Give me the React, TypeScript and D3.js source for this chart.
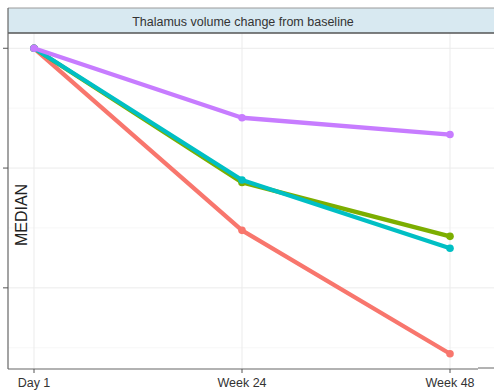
import React from "react";
import * as d3 from "d3";

const visits = ["Day 1", "Week 24", "Week 48"];
const groupNames = ["A", "B", "C", "D"];
const groupColors = ["#F8766D", "#7CAE00", "#00BFC4", "#C77CFF"];
const valuesA = [0, -1.52, -2.55];
const valuesB = [0, -1.12, -1.57];
const valuesC = [0, -1.10, -1.67];
const valuesD = [0, -0.58, -0.72];
const yTicks = [0, -1, -2];
const yMinorTicks = [-0.5, -1.5, -2.5];
const title = "Thalamus volume change from baseline";
const yLabel = "MEDIAN";

const W = 494;
const H = 390;

export default function App() {
  const panelLeft = 8;
  const panelRight = 494;
  const panelTop = 33;
  const panelBottom = 369;
  const x = d3.scalePoint<string>().domain(visits).range([34, 450]);
  const series = [valuesA, valuesB, valuesC, valuesD];
  const allVals = series.flat();
  const lo = d3.min(allVals)!;
  const hi = d3.max(allVals)!;
  const pad = (hi - lo) * 0.05;
  const y = d3.scaleLinear().domain([lo - pad, hi + pad]).range([panelBottom, panelTop]);
  const line = d3
    .line<number>()
    .x((_, i) => x(visits[i])!)
    .y((d) => y(d));
  const font = "'Liberation Sans', Arial, Helvetica, sans-serif";
  return (
    <svg width={W} height={H} style={{ position: "absolute", left: 0, top: 0 }} fontFamily={font}>
      <rect x={0} y={0} width={W} height={H} fill="#fff" />
      {/* grid */}
      {yMinorTicks.map((t) => (
        <line key={"m" + t} x1={panelLeft} x2={panelRight} y1={y(t)} y2={y(t)} stroke="#f3f3f3" strokeWidth={0.7} />
      ))}
      {yTicks.map((t) => (
        <line key={"g" + t} x1={panelLeft} x2={panelRight} y1={y(t)} y2={y(t)} stroke="#ebebeb" strokeWidth={1} />
      ))}
      {visits.map((v) => (
        <line key={"v" + v} x1={x(v)} x2={x(v)} y1={panelTop} y2={panelBottom} stroke="#ebebeb" strokeWidth={1} />
      ))}
      {/* strip */}
      <rect x={panelLeft} y={8} width={panelRight - panelLeft + 2} height={panelTop - 8} fill="#d8e9f1" />
      <line x1={panelLeft} x2={panelRight} y1={8} y2={8} stroke="#9a9a9a" strokeWidth={1} />
      <line x1={panelLeft} x2={panelRight} y1={panelTop} y2={panelTop} stroke="#555" strokeWidth={1.5} />
      <text x={243} y={25.5} textAnchor="middle" fontSize={12.5} fill="#333">
        {title}
      </text>
      {/* lines */}
      {series.map((s, i) => (
        <g key={groupNames[i]}>
          <path d={line(s)!} fill="none" stroke={groupColors[i]} strokeWidth={4.3} strokeLinejoin="round" />
          {s.map((v, j) => (
            <circle key={j} cx={x(visits[j])} cy={y(v)} r={3.8} fill={groupColors[i]} />
          ))}
        </g>
      ))}
      {/* axes */}
      <line x1={panelLeft} x2={panelLeft} y1={8} y2={panelBottom} stroke="#666" strokeWidth={1.2} />
      <line x1={panelLeft} x2={478} y1={panelBottom} y2={panelBottom} stroke="#666" strokeWidth={1.2} />
      <line x1={478} x2={494} y1={panelBottom - 1} y2={panelBottom - 1} stroke="#666" strokeWidth={1} />
      {yTicks.map((t) => (
        <line key={"yt" + t} x1={3} x2={panelLeft} y1={y(t)} y2={y(t)} stroke="#555" strokeWidth={1} />
      ))}
      {visits.map((v) => (
        <g key={"xt" + v}>
          <line x1={x(v)} x2={x(v)} y1={panelBottom} y2={panelBottom + 4} stroke="#555" strokeWidth={1} />
          <text x={x(v)} y={387} textAnchor="middle" fontSize={12.5} fill="#333">
            {v}
          </text>
        </g>
      ))}
      <text
        transform={`translate(27, 215) rotate(-90)`}
        textAnchor="middle"
        fontSize={16}
        fill="#222"
      >
        {yLabel}
      </text>
    </svg>
  );
}
